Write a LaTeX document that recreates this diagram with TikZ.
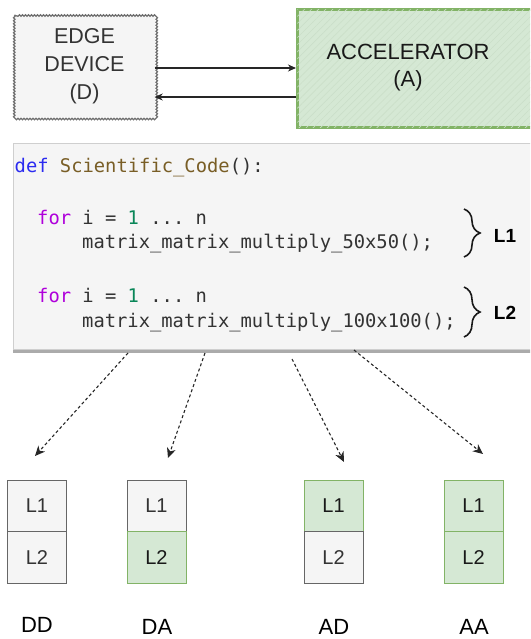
\documentclass[tikz,border=0pt]{standalone}
\usepackage{fontspec}
\setmainfont{Liberation Sans}
\setmonofont{DejaVu Sans Mono}
\usetikzlibrary{arrows.meta,decorations.pathmorphing,decorations.pathreplacing,patterns.meta}
\definecolor{gfill}{HTML}{D5E8D4}
\definecolor{gline}{HTML}{82B366}
\definecolor{ghatch}{HTML}{CBDFC9}
\definecolor{cfill}{HTML}{F5F5F5}
\definecolor{cline}{HTML}{666666}
\definecolor{wavyc}{HTML}{707070}
\definecolor{ctext}{HTML}{333333}
\definecolor{kwblue}{HTML}{2B2BF0}
\definecolor{fnbrown}{HTML}{795E26}
\definecolor{kwpurple}{HTML}{AF00DB}
\definecolor{numgreen}{HTML}{098658}
\definecolor{codeborder}{HTML}{CFCFCF}
\definecolor{codeshadow}{HTML}{ABABAB}
\begin{document}
\begin{tikzpicture}[x=1pt,y=-1pt,
  edgebox/.style={fill=cfill, text=ctext, align=center,
    font=\fontsize{21.5}{28}\selectfont},
  wavy/.style={draw=wavyc, line width=1.3pt, decorate,
      decoration={snake, amplitude=0.7pt, segment length=3pt}},
  accbox/.style={fill=gfill, draw=gline, line width=2.8pt,
    postaction={pattern={Lines[angle=45,distance=5pt,line width=0.6pt]}, pattern color=ghatch}},
  acctext/.style={align=center, text=black!90, font=\fontsize{22}{27}\selectfont},
  conn/.style={draw=black!85, line width=1.1pt, -{Stealth[length=8pt,width=7pt,inset=2.5pt]}},
  codebox/.style={fill=cfill, draw=codeborder, line width=0.8pt},
  codetxt/.style={anchor=base west, inner sep=0pt, text=ctext,
    font=\ttfamily\fontsize{18.8}{22}\selectfont},
  bracedraw/.style={draw=black!90, line width=1.6pt, decorate,
    decoration={brace, amplitude=16pt, aspect=0.5}},
  lbl/.style={font=\bfseries\fontsize{19}{22}\selectfont, text=black},
  cellgray/.style={draw=cline, fill=cfill, text=ctext, line width=1pt,
    minimum width=59pt, minimum height=51.5pt, inner sep=0pt,
    font=\fontsize{20}{24}\selectfont},
  cellgreen/.style={draw=gline, fill=gfill, text=black!90, line width=1pt,
    minimum width=59pt, minimum height=51.5pt, inner sep=0pt,
    font=\fontsize{20}{24}\selectfont},
  caption/.style={font=\fontsize{22}{26}\selectfont, text=black, inner sep=1pt},
  dotarrow/.style={draw=black!85, line width=1.1pt, dash pattern=on 3pt off 2.5pt,
    -{Stealth[length=10pt,width=9pt,inset=3pt]}}
]
\useasboundingbox (0,0) rectangle (530,639);
\clip (0,0) rectangle (530,639);

% top boxes
\node[edgebox, minimum width=140pt, minimum height=102pt, inner sep=0pt] (edge) at (84.5,66.5) {EDGE\\DEVICE\\(D)};
\draw[wavy] (edge.north west) rectangle (edge.south east);
\node[accbox, anchor=north west, minimum width=270pt, minimum height=118pt] (acc) at (296,8) {};
\node[acctext] (acclabel) at (408,68) {ACCELERATOR\\(A)};

\draw[conn] (edge.east |- 0,68) -- (acc.west |- 0,68);
\draw[conn] (acc.west |- 0,97) -- (edge.east |- 0,97);

% code block
\node[codebox, anchor=north west, minimum width=540pt, minimum height=206pt] (code) at (13,143) {};
\draw[codeshadow, line width=3pt] ([yshift=-1.5pt]code.south west) -- ([yshift=-1.5pt]code.south east);

\node[codetxt] (c1) at (14.5,172) {\textcolor{kwblue}{def} \textcolor{fnbrown}{Scientific\_Code}():};
\node[codetxt] (c2) at (37,224) {\textcolor{kwpurple}{for} i = \textcolor{numgreen}{1} ... n};
\node[codetxt] (c3) at (82,248) {matrix\_matrix\_multiply\_50x50();};
\node[codetxt] (c4) at (37,302) {\textcolor{kwpurple}{for} i = \textcolor{numgreen}{1} ... n};
\node[codetxt] (c5) at (82,327) {matrix\_matrix\_multiply\_100x100();};

\draw[bracedraw] (464,209) -- (464,257);
\draw[bracedraw] (464,287) -- (464,337);
\node[lbl] (l1) at (505,236) {L1};
\node[lbl] (l2) at (505,313) {L2};

% cells
\node[cellgray]  (dd1) at (37,505.75) {L1};
\node[cellgray]  (dd2) at (37,557.25) {L2};
\node[cellgray]  (da1) at (156.5,505.75) {L1};
\node[cellgreen] (da2) at (156.5,557.25) {L2};
\node[cellgreen] (ad1) at (333.5,505.75) {L1};
\node[cellgray]  (ad2) at (333.5,557.25) {L2};
\node[cellgreen] (aa1) at (473.5,505.75) {L1};
\node[cellgreen] (aa2) at (473.5,557.25) {L2};

\node[caption] (ldd) at (37,624.5) {DD};
\node[caption] (lda) at (157,626.5) {DA};
\node[caption] (lad) at (334,626.5) {AD};
\node[caption] (laa) at (474,626.5) {AA};

% dotted arrows
\coordinate (s1) at (128,353);
\coordinate (s2) at (205,353);
\coordinate (s3) at (292,359);
\coordinate (s4) at (354,350);
\coordinate (e1) at (35,456);
\coordinate (e2) at (168,458);
\coordinate (e3) at (344,462);
\coordinate (e4) at (483,454);
\draw[dotarrow] (s1) -- (e1);
\draw[dotarrow] (s2) -- (e2);
\draw[dotarrow] (s3) -- (e3);
\draw[dotarrow] (s4) -- (e4);
\end{tikzpicture}
\end{document}
